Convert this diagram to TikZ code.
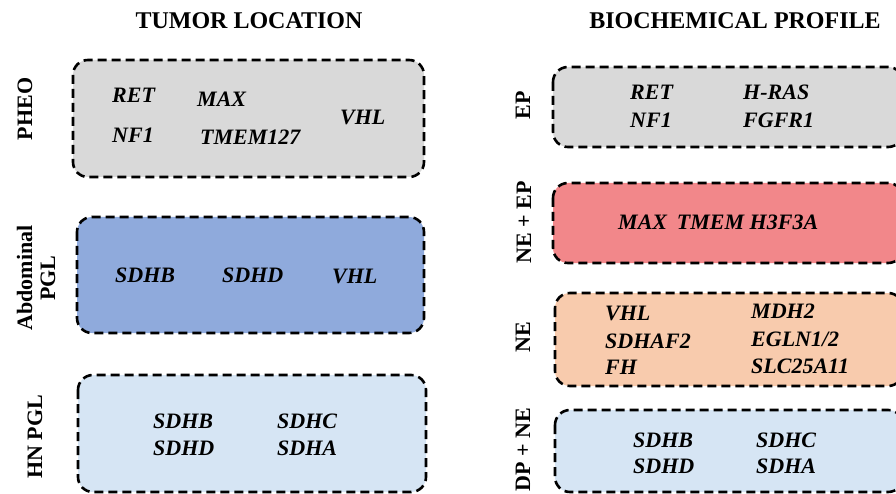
\documentclass[tikz,border=0pt]{standalone}
\usepackage{fontspec}
\setmainfont{Liberation Serif}
\definecolor{boxgray}{HTML}{D9D9D9}
\definecolor{boxblue}{HTML}{8FAADC}
\definecolor{boxlight}{HTML}{D6E5F4}
\definecolor{boxpink}{HTML}{F2878A}
\definecolor{boxorange}{HTML}{F8CBAD}
\tikzset{
  gbox/.style={draw=black, line width=2.6pt, dash pattern=on 9pt off 5pt, rounded corners=15pt},
  gene/.style={font=\fontsize{22}{24}\selectfont\bfseries\itshape, anchor=base west, inner sep=0pt},
  ttl/.style={font=\fontsize{24}{26}\selectfont\bfseries, anchor=base, inner sep=0pt},
  side/.style={font=\fontsize{22}{23}\selectfont\bfseries, rotate=90, align=center, inner sep=0pt}
}
\begin{document}
\begin{tikzpicture}[x=1pt,y=-1pt]
\useasboundingbox (0,0) rectangle (896,494);
\clip (0,0) rectangle (896,494);
% titles
\node[ttl] (t1) at (249,29) {TUMOR LOCATION};
\node[ttl] (t2) at (735,29) {BIOCHEMICAL PROFILE};
% left boxes
\draw[gbox, fill=boxgray] (73,60) rectangle (424,177);
\draw[gbox, fill=boxblue] (77,217) rectangle (424,333);
\draw[gbox, fill=boxlight] (78,375) rectangle (426,492);
% right boxes
\draw[gbox, fill=boxgray] (553,67) rectangle (903,147);
\draw[gbox, fill=boxpink] (553,183) rectangle (903,263);
\draw[gbox, fill=boxorange] (555,293) rectangle (903,386);
\draw[gbox, fill=boxlight] (555,410) rectangle (903,492);
% side labels
\node[side] (lp) at (25,109) {PHEO};
\node[side] (la) at (36,278) {Abdominal\\PGL};
\node[side] (lh) at (35,437) {HN PGL};
\node[side] (re) at (523,105) {EP};
\node[side] (rn) at (524,222) {NE + EP};
\node[side] (rne) at (523,337) {NE};
\node[side] (rd) at (523,450) {DP + NE};
% PHEO genes
\node[gene] (g1) at (112,103) {RET};
\node[gene] (g2) at (112,143) {NF1};
\node[gene] (g3) at (197,107) {MAX};
\node[gene] (g4) at (200,145) {TMEM127};
\node[gene] (g5) at (340,125) {VHL};
% Abdominal genes
\node[gene] (g6) at (115,282) {SDHB};
\node[gene] (g7) at (222,282) {SDHD};
\node[gene] (g8) at (332,283) {VHL};
% HN genes
\node[gene] (g9) at (153,428) {SDHB};
\node[gene] (g10) at (153,455) {SDHD};
\node[gene] (g11) at (277,428) {SDHC};
\node[gene] (g12) at (277,455) {SDHA};
% EP genes
\node[gene] (g13) at (630,100) {RET};
\node[gene] (g14) at (630,128) {NF1};
\node[gene] (g15) at (743,100) {H-RAS};
\node[gene] (g16) at (743,128) {FGFR1};
% NE+EP genes
\node[gene] (g17) at (618,230) {MAX\hspace{0.45em}TMEM H3F3A};
% NE genes
\node[gene] (g18) at (605,320) {VHL};
\node[gene] (g19) at (605,348) {SDHAF2};
\node[gene] (g20) at (605,374) {FH};
\node[gene] (g21) at (751,318) {MDH2};
\node[gene] (g22) at (751,346) {EGLN1/2};
\node[gene] (g23) at (751,373) {SLC25A11};
% DP+NE genes
\node[gene] (g24) at (633,447) {SDHB};
\node[gene] (g25) at (633,473) {SDHD};
\node[gene] (g26) at (756,447) {SDHC};
\node[gene] (g27) at (756,473) {SDHA};
\end{tikzpicture}
\end{document}
